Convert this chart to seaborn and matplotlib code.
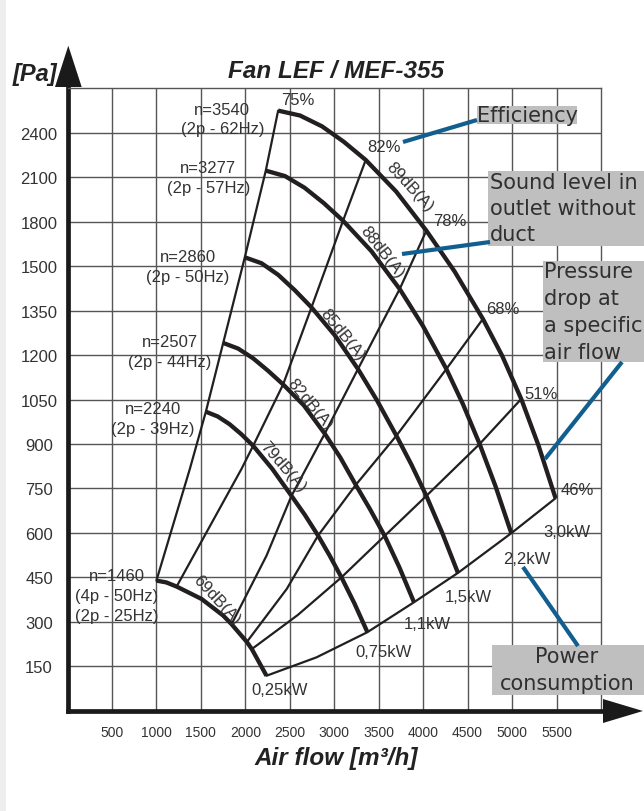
import numpy as np
import pandas as pd
import seaborn as sns
import matplotlib.pyplot as plt
from matplotlib.patches import Polygon, Rectangle
from matplotlib.lines import Line2D

# === Fan speed curves (air flow m3/h, pressure Pa) ===
speeds = ['n=3540', 'n=3277', 'n=2860', 'n=2507', 'n=2240', 'n=1460']
speed_text = ['n=3540\n(2p - 62Hz)', 'n=3277\n(2p - 57Hz)', 'n=2860\n(2p - 50Hz)',
              'n=2507\n(2p - 44Hz)', 'n=2240\n(2p - 39Hz)', 'n=1460\n(4p - 50Hz)\n(2p - 25Hz)']

n3540_flow = [2369, 2615, 2862, 3107, 3354, 3696, 4036, 4354, 4672, 4888, 5103, 5296, 5489]
n3540_pa = [2550, 2517, 2444, 2340, 2217, 2004, 1740, 1482, 1322, 1198, 1052, 896, 717]
n3277_flow = [2230, 2447, 2665, 2882, 3099, 3417, 3736, 3998, 4261, 4448, 4635, 4813, 4991]
n3277_pa = [2145, 2108, 2030, 1926, 1807, 1602, 1423, 1298, 1153, 1034, 900, 758, 599]
n2860_flow = [1994, 2182, 2369, 2556, 2744, 3006, 3267, 3483, 3699, 3867, 4036, 4213, 4391]
n2860_pa = [1560, 1520, 1471, 1419, 1361, 1267, 1153, 1046, 928, 831, 725, 601, 465]
n2507_flow = [1751, 1919, 2088, 2256, 2425, 2659, 2893, 3067, 3242, 3404, 3567, 3732, 3897]
n2507_pa = [1241, 1222, 1189, 1147, 1101, 1030, 935, 855, 762, 679, 590, 484, 366]
n2240_flow = [1556, 1689, 1822, 1955, 2088, 2303, 2519, 2669, 2818, 2949, 3081, 3227, 3373]
n2240_pa = [1009, 993, 967, 933, 894, 816, 725, 661, 591, 523, 450, 362, 265]
n1460_flow = [1000, 1110, 1227, 1508, 1751, 1845, 2017, 2073, 2238]
n1460_pa = [439, 433, 419, 377, 321, 292, 232, 208, 118]

# === Efficiency lines ===
efficiency = ['75%', '82%', '78%', '68%', '51%', '46%']
eff75_flow = [2369, 2230, 1994, 1751, 1556, 1376, 1000]
eff75_pa = [2550, 2145, 1560, 1241, 1009, 816, 439]
eff82_flow = [3354, 3099, 2744, 2425, 2088, 1957, 1227]
eff82_pa = [2217, 1807, 1361, 1101, 894, 816, 419]
eff78_flow = [4036, 3736, 3267, 2893, 2519, 2238, 1845]
eff78_pa = [1740, 1423, 1153, 935, 725, 523, 292]
eff68_flow = [4672, 4261, 3699, 3242, 2818, 2466, 2017]
eff68_pa = [1322, 1153, 928, 762, 591, 411, 232]
eff51_flow = [5103, 4635, 4036, 3567, 3081, 2590, 2073]
eff51_pa = [1052, 900, 725, 590, 450, 323, 208]
eff46_flow = [5489, 4991, 4391, 3897, 3373, 2800, 2238]
eff46_pa = [717, 599, 465, 366, 265, 180, 118]

# === Labels ===
speed_lab_flow = [1742, 1584, 1357, 1152, 964, 553]
speed_lab_pa = [2493, 2100, 1500, 1212, 985, 388]
eff_lab_flow = [2590, 3556, 4298, 4893, 5331, 5736]
eff_lab_pa = [2628, 2310, 1806, 1356, 1072, 745]
power = ['3,0kW', '2,2kW', '1,5kW', '1,1kW', '0,75kW', '0,25kW']
power_lab_flow = [5612, 5163, 4511, 4051, 3556, 2388]
power_lab_pa = [606, 512, 384, 293, 201, 73]
sound = ['89dB(A)', '88dB(A)', '85dB(A)', '82dB(A)', '79dB(A)', '69dB(A)']
sound_lab_flow = [3848, 3534, 3096, 2725, 2421, 1680]
sound_lab_pa = [2040, 1602, 1271, 1035, 826, 377]
sound_rot = [-47, -52, -51, -50, -49, -47]

x_ticks = [500, 1000, 1500, 2000, 2500, 3000, 3500, 4000, 4500, 5000, 5500]
y_ticks = [150, 300, 450, 600, 750, 900, 1050, 1200, 1350, 1500, 1800, 2100, 2400]

speed_df = pd.concat([
    pd.DataFrame({'flow': f, 'pa': p, 'curve': n})
    for n, f, p in zip(speeds,
                       [n3540_flow, n3277_flow, n2860_flow, n2507_flow, n2240_flow, n1460_flow],
                       [n3540_pa, n3277_pa, n2860_pa, n2507_pa, n2240_pa, n1460_pa])
], ignore_index=True)
eff_df = pd.concat([
    pd.DataFrame({'flow': f, 'pa': p, 'curve': e})
    for e, f, p in zip(efficiency,
                       [eff75_flow, eff82_flow, eff78_flow, eff68_flow, eff51_flow, eff46_flow],
                       [eff75_pa, eff82_pa, eff78_pa, eff68_pa, eff51_pa, eff46_pa])
], ignore_index=True)


# pressure axis: 150 Pa steps up to 1500, then 300 Pa steps
def pa_to_pos(p):
    p = np.asarray(p, dtype=float)
    return np.where(p <= 1500, p / 150.0, 10 + (p - 1500) / 300.0)


def pos_to_pa(k):
    k = np.asarray(k, dtype=float)
    return np.where(k <= 10, k * 150.0, 1500 + (k - 10) * 300.0)


sns.set_theme(style='white')
plt.rcParams['font.family'] = ['Liberation Sans', 'DejaVu Sans']

W, H = 644, 812
fig = plt.figure(figsize=(W / 100, H / 100), dpi=100)
ax = fig.add_axes([67.5 / W, 1 - 711.7 / H, 533.5 / W, 622.3 / H])


def px(x, y):
    return (x / W, 1 - y / H)


ink = '#231f20'
txt = '#333333'

sns.lineplot(data=eff_df, x='flow', y='pa', units='curve', estimator=None, sort=False,
             color=ink, lw=1.6, legend=False, ax=ax)
sns.lineplot(data=speed_df, x='flow', y='pa', units='curve', estimator=None, sort=False,
             color=ink, lw=3.1, legend=False, ax=ax, solid_capstyle='butt')

ax.set_yscale('function', functions=(pa_to_pos, pos_to_pa))
ax.set_xlim(0, 6000)
ax.set_ylim(0, 2700)
ax.set_xticks(x_ticks)
ax.set_xticklabels([str(v) for v in x_ticks])
ax.set_yticks(y_ticks)
ax.set_yticklabels([str(v) for v in y_ticks])
ax.minorticks_off()
ax.grid(True, color='#555555', lw=1.0)
ax.set_axisbelow(True)
ax.tick_params(axis='x', length=0, pad=10.5, labelsize=10, labelcolor=txt)
ax.tick_params(axis='y', length=0, pad=20.5, labelsize=12, labelcolor=txt)
for lab in ax.get_yticklabels():
    lab.set_horizontalalignment('center')
ax.set_xlabel('Air flow [m³/h]', fontsize=17.5, fontweight='bold', fontstyle='italic', color='#222222')
ax.xaxis.set_label_coords(0.503, -0.076)
ax.xaxis.label.set_va('center')
ax.set_ylabel('')

for side in ['top', 'right']:
    ax.spines[side].set_color('#555555')
    ax.spines[side].set_linewidth(1.0)
for side in ['left', 'bottom']:
    ax.spines[side].set_color('#1a1a1a')
    ax.spines[side].set_linewidth(3.4)

# axis arrows
fig.patches.append(Polygon([px(55, 88), px(81.7, 88), px(68.3, 46.7)], closed=True,
                           transform=fig.transFigure, fc='#1a1a1a', ec='none'))
fig.patches.append(Polygon([px(603, 700), px(603, 724), px(643, 712)], closed=True,
                           transform=fig.transFigure, fc='#1a1a1a', ec='none'))

# curve labels
for t, f, p in zip(speed_text, speed_lab_flow, speed_lab_pa):
    ax.text(f, p, t, ha='center', va='center', fontsize=12, color=txt, linespacing=1.4)
for t, f, p in zip(efficiency, eff_lab_flow, eff_lab_pa):
    ax.text(f, p, t, ha='center', va='center', fontsize=12, color=txt)
for t, f, p in zip(power, power_lab_flow, power_lab_pa):
    ax.text(f, p, t, ha='center', va='center', fontsize=12, color=txt)
for t, f, p, r in zip(sound, sound_lab_flow, sound_lab_pa, sound_rot):
    ax.text(f, p, t, ha='center', va='center', fontsize=12, color=txt, rotation=r,
            rotation_mode='anchor')

fig.text(*px(35, 74), '[Pa]', ha='center', va='center', fontsize=17, fontweight='bold',
         fontstyle='italic', color='#222222')
fig.text(*px(336, 71), 'Fan LEF / MEF-355', ha='center', va='center', fontsize=17.5,
         fontweight='bold', fontstyle='italic', color='#222222')

# callouts
box_c = '#bfbfbf'
blue = '#125e8e'
boxes = [(476.7, 106.7, 100, 18.3), (488, 171.7, 156, 75), (542.7, 261.7, 101.3, 101.6),
         (492, 646, 152, 50)]
for bx, by, bw, bh in boxes:
    fig.patches.append(Rectangle(px(bx, by + bh), bw / W, bh / H, transform=fig.transFigure,
                                 fc=box_c, ec='none', zorder=3))
leaders = [((403, 143), (477, 121)), ((402, 255), (490, 243)),
           ((545, 460), (622, 363)), ((523, 568), (578, 647))]
for (x0, y0), (x1, y1) in leaders:
    fig.add_artist(Line2D([x0 / W, x1 / W], [1 - y0 / H, 1 - y1 / H], transform=fig.transFigure,
                          color=blue, lw=3, solid_capstyle='butt', zorder=4))

cfont = dict(family='DejaVu Sans', fontsize=15, color='#303030', zorder=5)
fig.text(*px(477, 116), 'Efficiency', ha='left', va='center', **cfont)
fig.text(*px(490, 209), 'Sound level in\noutlet without\nduct', ha='left', va='center',
         linespacing=1.38, **cfont)
fig.text(*px(544, 312.5), 'Pressure\ndrop at\na specific\nair flow', ha='left', va='center',
         linespacing=1.42, **cfont)
fig.text(*px(567, 670.5), 'Power\nconsumption', ha='center', va='center',
         linespacing=1.4, **cfont)

# light strip on the left edge
fig.patches.append(Rectangle((0, 0), 6 / W, 1, transform=fig.transFigure, fc='#eeeeee', ec='none'))

plt.savefig('out.png', dpi=100)
